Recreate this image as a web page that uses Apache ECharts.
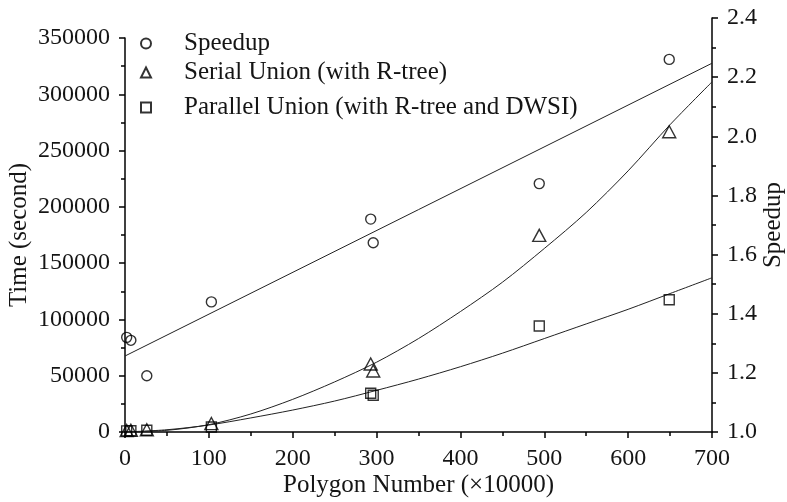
<!DOCTYPE html>
<html>
<head>
<meta charset="utf-8">
<script src="https://cdn.jsdelivr.net/npm/echarts@6/dist/echarts.min.js"></script>
<style>html,body{margin:0;padding:0;background:#fff;}#c{width:787px;height:502px;}</style>
</head>
<body>
<div id="c"></div>
<script>
// measured points
var polygonNumber = [2, 7, 26, 103, 293, 296, 494, 649];
var speedup      = [1.32, 1.31, 1.19, 1.44, 1.72, 1.64, 1.84, 2.26];
var serialTime   = [1300, 1500, 2000, 7500, 60400, 54200, 174700, 266700];
var parallelTime = [1000, 1100, 1600, 4500, 34400, 32600, 94100, 117500];

// fitted curves
var fitX          = [0, 50, 100, 150, 200, 250, 300, 350, 400, 450, 500, 550, 600, 650, 700];
var serialFit     = [0, 1500, 6500, 16000, 29000, 44500, 62000, 83000, 107000, 133000, 163000, 195000, 232000, 273000, 311000];
var parallelFit   = [0, 2000, 6200, 12500, 19500, 27500, 37000, 47000, 58000, 70000, 83000, 96000, 109000, 123000, 137000];
var speedupFitX   = [0, 700];
var speedupFit    = [1.257, 2.247];

function pairs(xs, ys){ return xs.map(function(x,i){ return [x, ys[i]]; }); }

var FONT = 'Liberation Serif';
var TXT = '#151515';
var chart = echarts.init(document.getElementById('c'));
var axisCommon = {
  axisLine: {show: true, onZero: false, lineStyle: {color: '#000', width: 1.5}},
  axisTick: {show: true, length: 6, lineStyle: {color: '#000', width: 1.5}},
  minorTick: {show: true, splitNumber: 2, length: 4, lineStyle: {color: '#000', width: 1.5}},
  splitLine: {show: false},
  axisLabel: {fontFamily: FONT, fontSize: 24, color: TXT, margin: 15,
              formatter: function(v){ return String(v); }},
  nameTextStyle: {fontFamily: FONT, fontSize: 25, color: TXT},
  nameMoveOverlap: false
};
function ax(o){
  var base = {
    axisLine: axisCommon.axisLine, axisTick: axisCommon.axisTick, minorTick: axisCommon.minorTick,
    splitLine: axisCommon.splitLine, axisLabel: axisCommon.axisLabel, nameTextStyle: axisCommon.nameTextStyle,
    nameMoveOverlap: false
  };
  return Object.assign(base, o);
}

var hollow = {color: 'rgba(0,0,0,0)', borderColor: '#000', borderWidth: 1.4};
function legend(name, top){
  return {
    data: [name], left: 135, top: top, orient: 'vertical',
    itemWidth: 10, itemHeight: 10,
    textStyle: {fontFamily: FONT, fontSize: 25, color: TXT, padding: [0,0,0,28], lineHeight: 25}
  };
}

chart.setOption({
  animation: false,
  backgroundColor: '#fff',
  legend: [
    legend('Speedup', 26),
    legend('Serial Union (with R-tree)', 55),
    legend('Parallel Union (with R-tree and DWSI)', 90)
  ],
  grid: [
    {left: 125, right: 75, top: 38, bottom: 70, outerBoundsMode: 'none', containLabel: false},
    {left: 125, right: 75, top: 18, bottom: 70, outerBoundsMode: 'none', containLabel: false}
  ],
  xAxis: [
    ax({type: 'value', gridIndex: 0, min: 0, max: 700, interval: 100,
        name: 'Polygon Number (\u00d710000)', nameLocation: 'middle', nameGap: 41}),
    {type: 'value', gridIndex: 1, min: 0, max: 700, show: false}
  ],
  yAxis: [
    ax({type: 'value', gridIndex: 0, min: 0, max: 350000, interval: 50000,
        name: 'Time (second)', nameLocation: 'middle', nameGap: 93}),
    ax({type: 'value', gridIndex: 1, position: 'right', min: 1.0, max: 2.4, interval: 0.2,
        axisLabel: {fontFamily: FONT, fontSize: 24, color: TXT, margin: 15,
                    formatter: function(v){ return v.toFixed(1); }},
        name: 'Speedup', nameLocation: 'middle', nameGap: 49, nameRotate: 90})
  ],
  series: [
    {name: 'Speedup', type: 'scatter', xAxisIndex: 1, yAxisIndex: 1,
     symbol: 'circle', symbolSize: 10, itemStyle: hollow, data: pairs(polygonNumber, speedup), z: 3},
    {name: 'Serial Union (with R-tree)', type: 'scatter', xAxisIndex: 0, yAxisIndex: 0,
     symbol: 'triangle', symbolSize: [13, 12], itemStyle: hollow, data: pairs(polygonNumber, serialTime), z: 3},
    {name: 'Parallel Union (with R-tree and DWSI)', type: 'scatter', xAxisIndex: 0, yAxisIndex: 0,
     symbol: 'rect', symbolSize: 10, itemStyle: hollow, data: pairs(polygonNumber, parallelTime), z: 3},
    {type: 'line', xAxisIndex: 1, yAxisIndex: 1, showSymbol: false, silent: true,
     lineStyle: {color: '#222', width: 1}, data: pairs(speedupFitX, speedupFit)},
    {type: 'line', xAxisIndex: 0, yAxisIndex: 0, showSymbol: false, smooth: 0.3, silent: true,
     lineStyle: {color: '#222', width: 1}, data: pairs(fitX, serialFit)},
    {type: 'line', xAxisIndex: 0, yAxisIndex: 0, showSymbol: false, smooth: 0.3, silent: true,
     lineStyle: {color: '#222', width: 1}, data: pairs(fitX, parallelFit)}
  ]
});
</script>
</body>
</html>
